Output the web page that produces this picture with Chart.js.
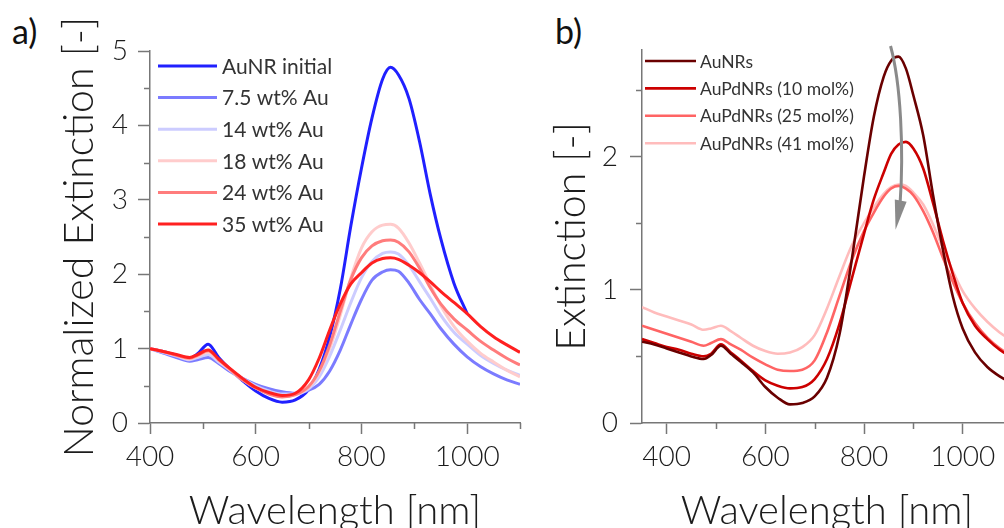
<!DOCTYPE html>
<html>
<head>
<meta charset="utf-8">
<script src="https://cdn.jsdelivr.net/npm/chart.js@4.4.1/dist/chart.umd.min.js"></script>
<style>
    html, body { margin: 0; padding: 0; background: #fff; overflow: hidden; width: 1004px; height: 528px; }
    canvas { position: absolute; top: 0; }
    #chartA { left: 0; }
    #chartB { left: 540px; }
    .panel-tag { position: absolute; font-family: Lato, sans-serif; font-size: 34px; color: #111; line-height: 1; }
</style>
</head>
<body>
<div class="panel-tag" style="left:12px; top:14px;">a)</div>
<div class="panel-tag" style="left:555px; top:14px;">b)</div>
<canvas id="chartA" width="540" height="528"></canvas>
<canvas id="chartB" width="500" height="528"></canvas>
<script>
// ================= DATA: panel a =================

const wavelengthA = [400, 425, 450, 475, 490, 510, 530, 550, 575, 600, 625, 650, 675, 700, 720, 740, 760, 780, 800, 820, 840, 855, 870, 890, 910, 930, 950, 975, 1000, 1025, 1050, 1075, 1100];

const auNRInitial = [1.00, 0.96, 0.91, 0.87, 0.93, 1.06, 0.88, 0.73, 0.57, 0.43, 0.33, 0.28, 0.31, 0.45, 0.72, 1.16, 1.80, 2.65, 3.42, 4.10, 4.62, 4.78, 4.68, 4.36, 3.78, 3.08, 2.48, 1.88, 1.47, null, null, null, null];
const au7_5 = [1.00, 0.94, 0.88, 0.83, 0.85, 0.88, 0.80, 0.70, 0.60, 0.52, 0.46, 0.42, 0.40, 0.44, 0.52, 0.70, 0.98, 1.33, 1.66, 1.92, 2.03, 2.06, 2.04, 1.88, 1.66, 1.47, 1.27, 1.06, 0.89, 0.76, 0.66, 0.58, 0.52];
const au14 = [1.00, 0.95, 0.90, 0.85, 0.88, 0.92, 0.82, 0.72, 0.60, 0.50, 0.43, 0.39, 0.39, 0.46, 0.62, 0.90, 1.25, 1.62, 1.95, 2.17, 2.28, 2.30, 2.27, 2.12, 1.90, 1.68, 1.45, 1.22, 1.06, 0.91, 0.80, 0.71, 0.64];
const au18 = [1.00, 0.96, 0.91, 0.86, 0.90, 0.95, 0.84, 0.72, 0.58, 0.47, 0.40, 0.36, 0.38, 0.48, 0.68, 1.00, 1.45, 1.95, 2.35, 2.57, 2.66, 2.67, 2.62, 2.42, 2.15, 1.86, 1.58, 1.30, 1.10, 0.94, 0.82, 0.71, 0.62];
const au24 = [1.00, 0.96, 0.91, 0.87, 0.91, 0.97, 0.85, 0.73, 0.58, 0.47, 0.39, 0.35, 0.38, 0.49, 0.70, 1.05, 1.50, 1.93, 2.22, 2.38, 2.45, 2.46, 2.43, 2.30, 2.08, 1.82, 1.60, 1.40, 1.25, 1.10, 0.98, 0.87, 0.78];
const au35 = [1.00, 0.96, 0.92, 0.88, 0.92, 0.98, 0.86, 0.74, 0.60, 0.48, 0.41, 0.37, 0.40, 0.58, 0.87, 1.25, 1.60, 1.87, 2.02, 2.15, 2.21, 2.22, 2.20, 2.12, 2.02, 1.90, 1.77, 1.62, 1.47, 1.30, 1.16, 1.05, 0.95];

const labelsA = ['AuNR initial', '7.5 wt% Au', '14 wt% Au', '18 wt% Au', '24 wt% Au', '35 wt% Au'];
const colorsA = ['#2020ff', '#7b7bff', '#ccccff', '#ffcccc', '#ff7c7c', '#ff2020'];

// ================= DATA: panel b =================

const wavelengthB = [350, 375, 400, 425, 450, 475, 490, 510, 530, 550, 575, 600, 625, 650, 675, 700, 725, 750, 775, 800, 820, 840, 855, 870, 885, 900, 920, 940, 960, 980, 1000, 1025, 1050, 1075, 1100];

const auNRs = [0.61, 0.59, 0.56, 0.53, 0.50, 0.48, 0.51, 0.58, 0.52, 0.46, 0.38, 0.27, 0.19, 0.14, 0.15, 0.20, 0.34, 0.66, 1.22, 1.85, 2.30, 2.60, 2.72, 2.75, 2.66, 2.46, 2.16, 1.71, 1.30, 0.95, 0.71, 0.53, 0.42, 0.35, 0.30];
const auPd10 = [0.63, 0.60, 0.57, 0.55, 0.52, 0.50, 0.52, 0.59, 0.53, 0.47, 0.39, 0.32, 0.28, 0.26, 0.27, 0.33, 0.48, 0.74, 1.08, 1.42, 1.68, 1.88, 2.02, 2.09, 2.11, 2.06, 1.91, 1.65, 1.37, 1.12, 0.90, 0.73, 0.63, 0.55, 0.49];
const auPd25 = [0.73, 0.70, 0.67, 0.64, 0.61, 0.58, 0.60, 0.63, 0.59, 0.55, 0.49, 0.44, 0.40, 0.39, 0.40, 0.47, 0.68, 0.95, 1.22, 1.44, 1.58, 1.70, 1.76, 1.78, 1.76, 1.71, 1.59, 1.43, 1.24, 1.06, 0.90, 0.75, 0.64, 0.56, 0.50];
const auPd41 = [0.87, 0.83, 0.80, 0.77, 0.74, 0.70, 0.71, 0.73, 0.69, 0.64, 0.58, 0.54, 0.52, 0.53, 0.57, 0.66, 0.86, 1.10, 1.33, 1.50, 1.62, 1.72, 1.77, 1.79, 1.78, 1.73, 1.64, 1.49, 1.31, 1.14, 0.99, 0.86, 0.76, 0.68, 0.62];

const labelsB = ['AuNRs', 'AuPdNRs (10 mol%)', 'AuPdNRs (25 mol%)', 'AuPdNRs (41 mol%)'];
const colorsB = ['#6a0000', '#cc0000', '#ff6464', '#ffbcbc'];

// trend arrow, [wavelength, extinction]: start, two control points, end, then the head tip
const trendArrow = [[853.8, 2.83], [874.5, 2.55], [881, 2.05], [873, 1.64], [864, 1.45]];

// ================= STYLE =================

const FONT = 'Lato, "Open Sans", sans-serif';
const AXIS_COLOR = '#777';
const TEXT_COLOR = '#1c1c1c';

// ================= PLUGINS =================

// short unlabelled ticks between the major ones
const minorTicks = {
    id: 'minorTicks',
    afterDraw(chart, args, opts) {
        const { ctx } = chart;
        const { x, y } = chart.scales;
        ctx.save();
        ctx.strokeStyle = AXIS_COLOR;
        ctx.lineWidth = 1.5;
        ctx.beginPath();
        for (let v = Math.ceil(x.min / opts.xStep) * opts.xStep; v <= x.max + 1e-6; v += opts.xStep) {
            if (Math.abs(v % opts.xMajor) < 1e-6) continue;
            const px = Math.round(x.getPixelForValue(v)) + 0.5;
            ctx.moveTo(px, y.bottom);
            ctx.lineTo(px, y.bottom + opts.len);
        }
        for (let v = opts.yStep; v <= y.max + 1e-6; v += opts.yStep) {
            if (Math.abs(v - Math.round(v)) < 1e-6) continue;
            const py = Math.round(y.getPixelForValue(v)) + 0.5;
            ctx.moveTo(x.left, py);
            ctx.lineTo(x.left - opts.len, py);
        }
        ctx.stroke();
        ctx.restore();
    }
};

// legend drawn inside the plot, one row per dataset
const innerLegend = {
    id: 'innerLegend',
    afterDraw(chart, args, opts) {
        const { ctx } = chart;
        ctx.save();
        ctx.font = `${opts.fontSize}px ${FONT}`;
        ctx.textBaseline = 'middle';
        ctx.fillStyle = '#333';
        ctx.lineWidth = opts.lineWidth;
        chart.data.datasets.forEach((ds, i) => {
            const yy = opts.y + i * opts.gap;
            ctx.strokeStyle = ds.borderColor;
            ctx.beginPath();
            ctx.moveTo(opts.x, yy);
            ctx.lineTo(opts.x + opts.lineLen, yy);
            ctx.stroke();
            ctx.fillText(ds.label, opts.x + opts.lineLen + opts.textGap, yy + 1);
        });
        ctx.restore();
    }
};

const arrowPlugin = {
    id: 'arrowPlugin',
    afterDraw(chart, args, opts) {
        if (!opts.points) return;
        const { ctx } = chart;
        const { x, y } = chart.scales;
        const p = opts.points.map(([w, e]) => [x.getPixelForValue(w), y.getPixelForValue(e)]);
        ctx.save();
        ctx.strokeStyle = '#8a8a8a';
        ctx.fillStyle = '#8a8a8a';
        ctx.lineWidth = 3;
        ctx.beginPath();
        ctx.moveTo(p[0][0], p[0][1]);
        ctx.bezierCurveTo(p[1][0], p[1][1], p[2][0], p[2][1], p[3][0], p[3][1]);
        ctx.stroke();
        // head
        const [ex, ey] = p[3];
        const [tx, ty] = p[4];
        const ang = Math.atan2(ty - ey, tx - ex);
        const half = 6;
        ctx.beginPath();
        ctx.moveTo(tx, ty);
        ctx.lineTo(ex - 4 * Math.cos(ang) + half * Math.sin(ang), ey - 4 * Math.sin(ang) - half * Math.cos(ang));
        ctx.lineTo(ex - 4 * Math.cos(ang) - half * Math.sin(ang), ey - 4 * Math.sin(ang) + half * Math.cos(ang));
        ctx.closePath();
        ctx.fill();
        ctx.restore();
    }
};

// ================= CHART BUILDER =================

function makeDatasets(wavelengths, series, labels, colors, topIndex) {
    return series.map((vals, i) => ({
        label: labels[i],
        data: wavelengths.map((w, j) => ({ x: w, y: vals[j] })),
        borderColor: colors[i],
        order: Math.abs(i - topIndex)
    }));
}

function buildChart(canvasId, cfg) {
    return new Chart(document.getElementById(canvasId), {
        type: 'line',
        data: { datasets: cfg.datasets },
        options: {
            responsive: false,
            animation: false,
            devicePixelRatio: 1,
            layout: { padding: cfg.padding },
            elements: {
                point: { radius: 0 },
                line: { borderWidth: cfg.lineWidth, cubicInterpolationMode: 'monotone', fill: false }
            },
            plugins: {
                legend: { display: false },
                tooltip: { enabled: false },
                minorTicks: { xStep: 100, xMajor: 200, yStep: 0.5, len: 6 },
                innerLegend: cfg.legend,
                arrowPlugin: { points: cfg.arrow }
            },
            scales: {
                x: {
                    type: 'linear',
                    min: cfg.xMin,
                    max: 1100,
                    afterFit: s => { s.height = cfg.xHeight; },
                    ticks: {
                        stepSize: 200,
                        includeBounds: false,
                        maxRotation: 0,
                        autoSkip: false,
                        padding: 6,
                        color: TEXT_COLOR,
                        font: { family: FONT, size: 28, weight: 300 },
                        callback: v => String(v)
                    },
                    grid: { drawOnChartArea: false, tickLength: 11, tickColor: AXIS_COLOR, tickWidth: 1.5 },
                    border: { color: AXIS_COLOR, width: 1.5 },
                    title: {
                        display: true,
                        text: 'Wavelength [nm]',
                        color: TEXT_COLOR,
                        font: { family: FONT, size: 40, weight: 300, lineHeight: 0.85 },
                        padding: { top: 0, bottom: 0 }
                    }
                },
                y: {
                    min: 0,
                    max: cfg.yMax,
                    afterFit: s => { s.width = cfg.yWidth; },
                    ticks: {
                        stepSize: 1,
                        includeBounds: false,
                        padding: cfg.yTickPad,
                        color: TEXT_COLOR,
                        font: { family: FONT, size: 28, weight: 300 },
                        callback: v => String(v)
                    },
                    grid: { drawOnChartArea: false, tickLength: 12, tickColor: AXIS_COLOR, tickWidth: 1.5 },
                    border: { color: AXIS_COLOR, width: 1.5 },
                    title: {
                        display: true,
                        text: cfg.yTitle,
                        color: TEXT_COLOR,
                        font: { family: FONT, size: 41, weight: 300 },
                        padding: { top: cfg.yTitlePad, bottom: 0 }
                    }
                }
            }
        },
        plugins: [minorTicks, innerLegend, arrowPlugin]
    });
}

document.fonts.load('300 28px Lato').finally(() => {
    buildChart('chartA', {
        datasets: makeDatasets(wavelengthA, [auNRInitial, au7_5, au14, au18, au24, au35], labelsA, colorsA, 5),
        padding: { left: 0, right: 20, top: 51, bottom: 0 },
        lineWidth: 3,
        xMin: 400,
        xHeight: 105,
        yMax: 5,
        yWidth: 150,
        yTickPad: 10,
        yTitle: 'Normalized Extinction [-]',
        yTitlePad: 55,
        legend: { x: 158, y: 66, gap: 31.6, lineLen: 59, textGap: 5, fontSize: 21, lineWidth: 3 }
    });

    buildChart('chartB', {
        datasets: makeDatasets(wavelengthB, [auNRs, auPd10, auPd25, auPd41], labelsB, colorsB, 0),
        padding: { left: 0, right: 28, top: 50, bottom: 0 },
        lineWidth: 2.6,
        xMin: 350,
        xHeight: 105,
        yMax: 2.8,
        yWidth: 102,
        yTickPad: 12,
        yTitle: 'Extinction [-]',
        yTitlePad: 7,
        legend: { x: 105, y: 61, gap: 27.4, lineLen: 51, textGap: 4, fontSize: 17.5, lineWidth: 2.6 },
        arrow: trendArrow
    });
});
</script>
</body>
</html>
